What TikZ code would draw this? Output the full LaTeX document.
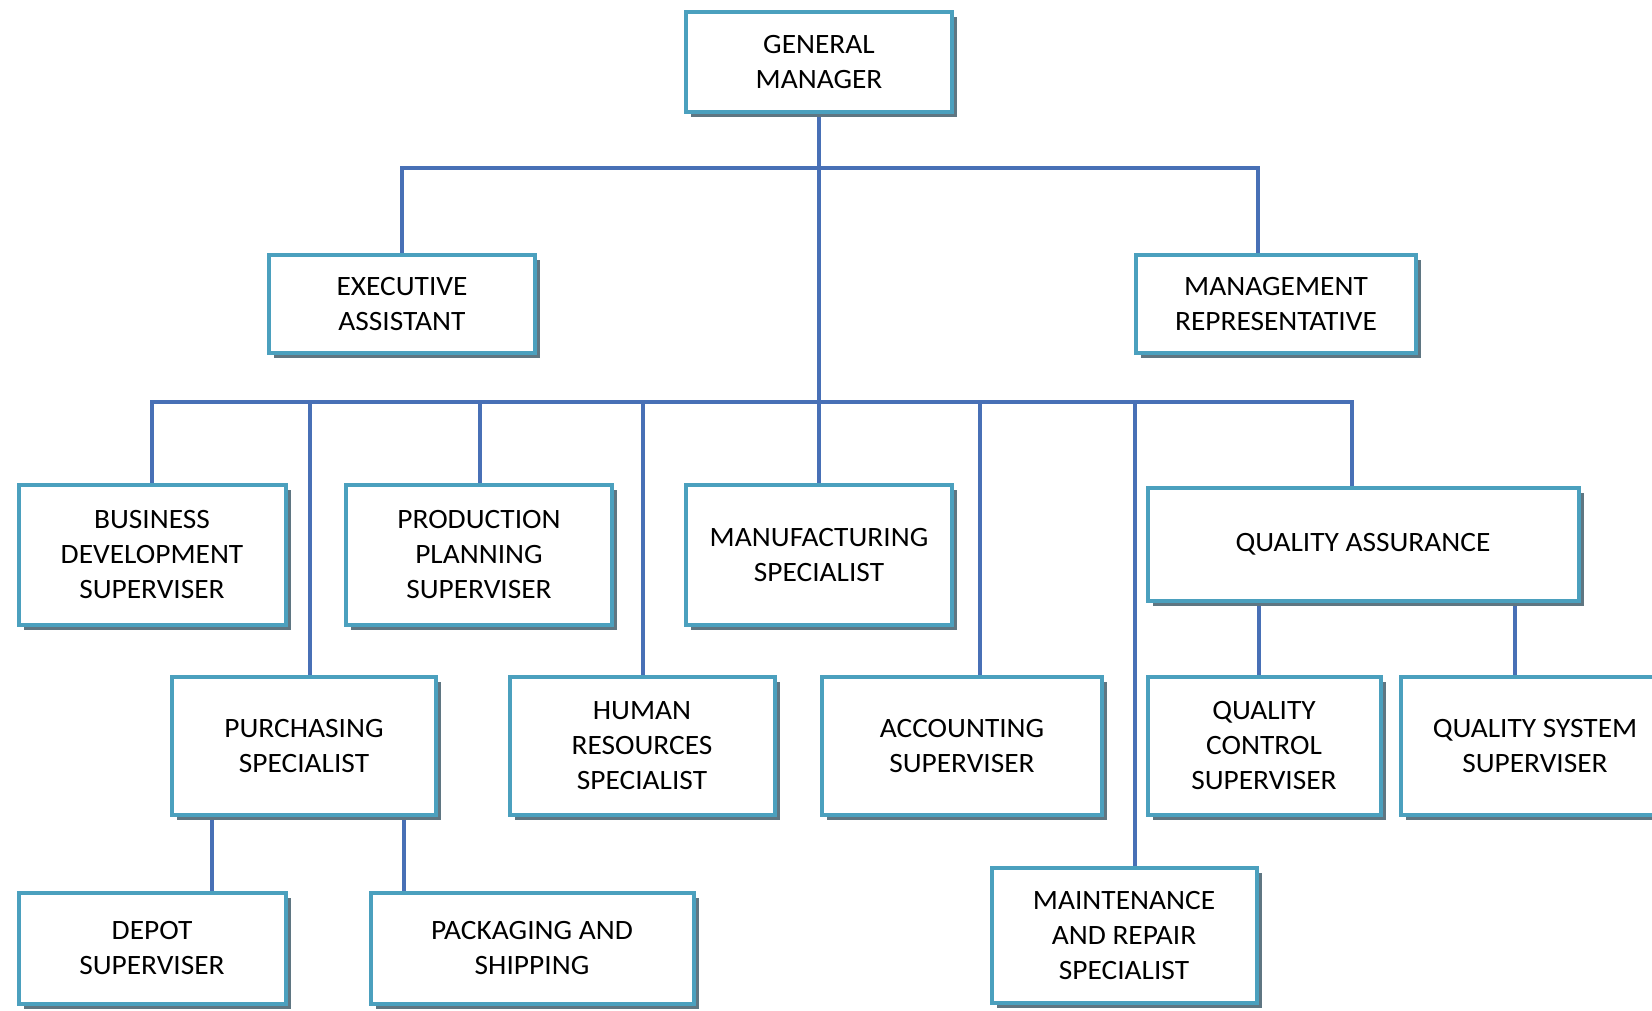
\documentclass[tikz,border=0pt]{standalone}
\usepackage{fontspec}
\setmainfont{Carlito}[FakeStretch=1.05]
\usepackage{tikz}
\usetikzlibrary{shadows}
\usetikzlibrary{backgrounds}
\definecolor{bordure}{RGB}{75,160,190}
\definecolor{trait}{RGB}{72,112,182}
\definecolor{ombre}{RGB}{95,118,130}
\def\largeur{1652}
\def\hauteur{1010}
\tikzset{
	poste/.style={draw=bordure, line width=4pt, fill=white, align=center, inner sep=0pt,
		font=\fontsize{28}{35}\selectfont,
		drop shadow={shadow xshift=5pt, shadow yshift=-5pt, fill=ombre, opacity=1}},
	lien/.style={draw=trait, line width=4pt}
}

\begin{document}
\begin{tikzpicture}[x=1pt, y=-1pt]
	\useasboundingbox (0,0) rectangle (\largeur,\hauteur);
	%\draw[step=100pt, line width=0.2pt, black!20!white] (0,0) grid (\largeur,\hauteur);
	% direction
	\node[poste, minimum width=266pt, minimum height=100pt] (gm) at (819,62) {GENERAL\\MANAGER};
	\node[poste, minimum width=266pt, minimum height=98pt] (ea) at (402,304) {EXECUTIVE\\ASSISTANT};
	\node[poste, minimum width=280pt, minimum height=98pt] (mr) at (1276,304) {MANAGEMENT\\REPRESENTATIVE};
	% services
	\node[poste, minimum width=267pt, minimum height=140pt] (bd) at (152,555) {BUSINESS\\DEVELOPMENT\\SUPERVISER};
	\node[poste, minimum width=266pt, minimum height=140pt] (pp) at (479,555) {PRODUCTION\\PLANNING\\SUPERVISER};
	\node[poste, minimum width=266pt, minimum height=140pt] (ms) at (819,555) {MANUFACTURING\\SPECIALIST};
	\node[poste, minimum width=431pt, minimum height=113pt] (qa) at (1363,544) {QUALITY ASSURANCE};
	\node[poste, minimum width=264pt, minimum height=138pt] (pur) at (304,746) {PURCHASING\\SPECIALIST};
	\node[poste, minimum width=265pt, minimum height=138pt] (hr) at (642,746) {HUMAN\\RESOURCES\\SPECIALIST};
	\node[poste, minimum width=280pt, minimum height=138pt] (acc) at (962,746) {ACCOUNTING\\SUPERVISER};
	\node[poste, minimum width=233pt, minimum height=138pt] (qc) at (1264,746) {QUALITY\\CONTROL\\SUPERVISER};
	\node[poste, minimum width=269pt, minimum height=138pt] (qss) at (1535,746) {QUALITY SYSTEM\\SUPERVISER};
	% bas
	\node[poste, minimum width=267pt, minimum height=111pt] (dep) at (152,948) {DEPOT\\SUPERVISER};
	\node[poste, minimum width=323pt, minimum height=111pt] (pkg) at (532,948) {PACKAGING AND\\SHIPPING};
	\node[poste, minimum width=265pt, minimum height=135pt] (mt) at (1124,935) {MAINTENANCE\\AND REPAIR\\SPECIALIST};
	% liens
	\coordinate (haut) at (819,168);
	\coordinate (milieu) at (819,402);
	\begin{scope}[on background layer]
	\draw[lien] (gm.south) -- (milieu);
	\draw[lien] (ea.north) |- (haut) -| ([xshift=-18pt]mr.north);
	\draw[lien] (bd.north) |- (milieu) -| ([xshift=-11pt]qa.north);
	\foreach \n/\d in {pp/1, ms/0, pur/6, hr/1, acc/18, mt/11}
		\draw[lien] ([xshift=\d pt]\n.north) -- ([xshift=\d pt]\n.north |- milieu);
	\draw[lien] ([xshift=-5pt]qc.north) -- ([xshift=-5pt]qc.north |- qa.south);
	\draw[lien] ([xshift=-20pt]qss.north) -- ([xshift=-20pt]qss.north |- qa.south);
	\draw[lien] ([xshift=-92pt]pur.south) -- ([xshift=-92pt]pur.south |- dep.north);
	\draw[lien] ([xshift=100pt]pur.south) -- ([xshift=100pt]pur.south |- pkg.north);
	\end{scope}
\end{tikzpicture}
\end{document}
